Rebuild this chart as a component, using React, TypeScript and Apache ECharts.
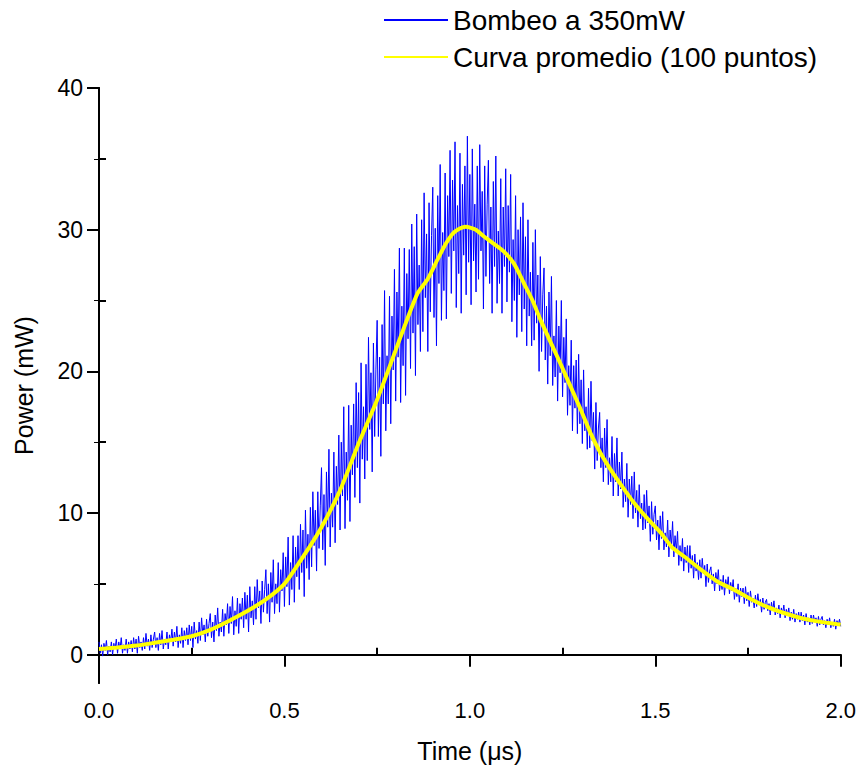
import React, { useEffect, useRef } from "react";
import * as echarts from "echarts";

// Blue trace: Bombeo a 350mW, one value every T_STEP microseconds
const T_STEP = 2 / 600;
const bombeo: number[] = [
  0.9, 0.1, 0.7, -0.1, 0.8, 0.3, 1.0, 0.0, 0.6, 0.2, 0.9, 0.0, 0.8, 0.4, 1.1,
  0.1, 0.9, 0.4, 1.2, 0.1, 0.7, 0.3, 1.1, 0.1, 0.9, 0.4, 1.0, 0.2, 1.2, 0.4,
  1.1, 0.1, 1.3, 0.5, 0.9, 0.3, 1.2, 0.4, 1.5, 0.6, 1.1, 0.3, 1.4, 0.5, 1.1,
  1.6, 0.5, 1.2, 0.3, 1.5, 0.7, 1.7, 0.4, 1.1, 0.7, 1.6, 0.4, 1.4, 0.9, 1.8,
  0.6, 1.6, 0.9, 2.0, 0.5, 1.4, 0.8, 1.9, 0.5, 1.7, 1.0, 1.9, 0.7, 2.1, 1.0,
  2.0, 0.5, 2.3, 1.1, 1.7, 0.8, 2.3, 1.0, 2.6, 1.4, 2.1, 0.9, 2.5, 1.3, 2.2,
  2.9, 1.2, 2.3, 0.9, 2.8, 1.7, 3.3, 1.3, 2.3, 1.6, 3.2, 1.3, 2.9, 2.1, 3.6,
  1.5, 3.4, 2.2, 4.1, 1.4, 3.1, 2.0, 4.0, 1.5, 3.6, 2.5, 4.0, 1.9, 4.4, 2.5,
  4.2, 1.6, 4.8, 2.6, 3.8, 2.1, 4.8, 2.5, 5.3, 3.3, 4.5, 2.2, 5.2, 3.0, 4.6,
  6.0, 2.9, 5.0, 2.3, 5.8, 3.7, 6.7, 2.9, 5.0, 3.6, 6.5, 3.0, 6.0, 4.5, 7.2,
  3.4, 6.9, 4.8, 8.3, 3.5, 6.5, 4.6, 8.4, 3.7, 7.6, 5.5, 8.4, 4.6, 9.2, 5.8,
  8.8, 4.1, 10.2, 6.1, 8.5, 5.3, 10.4, 6.2, 11.5, 7.7, 10.2, 5.9, 11.5, 7.5, 10.5,
  13.2, 7.4, 11.3, 6.3, 12.9, 9.0, 14.5, 7.6, 11.4, 9.0, 14.3, 7.9, 13.3, 10.6, 15.5,
  8.8, 15.0, 11.2, 17.5, 8.9, 14.3, 10.9, 17.6, 9.4, 16.2, 12.7, 17.7, 11.1, 19.2, 13.2,
  18.5, 10.7, 20.6, 13.8, 17.5, 12.4, 20.5, 13.7, 22.4, 15.9, 19.9, 12.9, 22.0, 15.4, 20.1,
  23.6, 15.4, 21.0, 14.0, 23.3, 17.7, 25.7, 15.8, 21.1, 17.7, 25.3, 16.3, 23.9, 20.1, 27.2,
  17.9, 25.6, 21.0, 28.7, 17.8, 24.6, 20.4, 28.7, 18.3, 26.9, 22.3, 28.6, 20.2, 30.4, 22.7,
  28.8, 19.7, 31.1, 23.3, 27.5, 21.4, 30.7, 22.8, 32.6, 25.2, 29.7, 21.4, 31.9, 24.2, 29.6,
  33.0, 23.8, 30.1, 21.8, 32.4, 26.2, 34.6, 23.6, 29.8, 25.7, 34.0, 23.7, 32.4, 28.1, 35.6,
  25.5, 33.5, 28.5, 36.2, 24.5, 31.7, 26.9, 35.4, 24.1, 33.2, 28.2, 34.5, 25.4, 36.6, 27.7,
  33.9, 24.7, 35.7, 27.8, 31.8, 25.6, 34.5, 26.5, 36.0, 28.5, 32.7, 24.4, 34.5, 26.7, 31.8,
  34.9, 26.2, 31.6, 24.1, 33.4, 27.4, 35.2, 24.8, 29.9, 26.2, 33.6, 24.1, 31.6, 27.4, 34.3,
  24.9, 31.7, 27.0, 33.9, 23.5, 29.3, 25.0, 32.4, 22.4, 30.0, 25.4, 30.9, 22.8, 31.9, 24.4,
  29.5, 21.8, 30.7, 23.9, 27.0, 21.8, 29.1, 22.2, 30.0, 23.4, 26.8, 20.0, 28.1, 21.4, 25.4,
  27.3, 20.8, 24.6, 19.1, 25.6, 21.1, 26.7, 19.0, 22.5, 19.6, 25.0, 17.9, 23.2, 19.9, 25.0,
  18.2, 22.4, 19.2, 23.7, 16.9, 20.4, 17.6, 22.2, 15.8, 20.4, 17.4, 20.8, 15.6, 21.2, 16.3,
  19.4, 14.9, 20.1, 15.8, 17.5, 14.5, 18.8, 14.6, 19.3, 15.1, 17.1, 13.1, 17.8, 13.7, 16.0,
  17.1, 13.2, 15.3, 12.2, 16.0, 13.2, 16.6, 12.0, 13.9, 12.2, 15.4, 11.2, 14.2, 12.2, 15.3,
  11.2, 13.6, 11.7, 14.3, 10.4, 12.4, 10.8, 13.5, 9.7, 12.4, 10.6, 12.6, 9.6, 12.9, 10.0,
  11.6, 9.0, 12.0, 9.6, 10.7, 8.8, 11.3, 8.9, 11.6, 9.3, 10.5, 8.0, 10.8, 8.5, 9.9,
  10.5, 8.1, 9.5, 7.4, 9.8, 8.2, 10.1, 7.4, 8.6, 7.6, 9.5, 6.9, 8.8, 7.6, 9.4,
  6.9, 8.4, 7.3, 8.7, 6.3, 7.7, 6.6, 8.2, 5.9, 7.6, 6.5, 7.7, 5.8, 7.7, 6.1,
  7.0, 5.4, 7.1, 5.9, 6.5, 5.3, 6.7, 5.4, 6.8, 5.7, 6.3, 4.8, 6.4, 5.1, 5.9,
  6.2, 5.0, 5.7, 4.5, 5.8, 5.0, 6.0, 4.5, 5.3, 4.6, 5.6, 4.2, 5.3, 4.7, 5.5,
  4.3, 5.1, 4.5, 5.3, 3.9, 4.7, 4.1, 5.0, 3.7, 4.7, 4.1, 4.7, 3.6, 4.8, 3.8,
  4.4, 3.4, 4.5, 3.7, 4.0, 3.3, 4.2, 3.4, 4.3, 3.5, 3.9, 3.0, 4.0, 3.2, 3.7,
  3.9, 3.1, 3.6, 2.8, 3.7, 3.1, 3.8, 2.8, 3.3, 2.9, 3.5, 2.6, 3.3, 2.9, 3.5,
  2.6, 3.2, 2.8, 3.3, 2.4, 3.0, 2.5, 3.2, 2.3, 2.9, 2.5, 3.0, 2.3, 3.0, 2.4,
  2.8, 2.1, 2.9, 2.3, 2.6, 2.1, 2.8, 2.2, 2.8, 2.3, 2.6, 2.0, 2.7, 2.1, 2.5,
  2.7, 2.1, 2.4, 1.9, 2.5, 2.1, 2.6, 1.9, 2.3, 2.0, 2.5, 1.8, 2.4, 2.1, 2.5,
  2.0,
];

// Yellow trace: Curva promedio (100 puntos)
const promedioT: number[] = [
  0.0, 0.05, 0.1, 0.15, 0.2, 0.25, 0.3, 0.35, 0.4, 0.45, 0.5, 0.55, 0.6, 0.65, 0.7, 0.75, 0.8,
  0.827, 0.859, 0.886, 0.913, 0.935, 0.953, 0.967, 0.989, 1.016, 1.039, 1.065, 1.092, 1.119,
  1.146, 1.169, 1.191, 1.245, 1.272, 1.299, 1.326, 1.353, 1.38, 1.41, 1.443, 1.479, 1.515,
  1.546, 1.578, 1.623, 1.667, 1.712, 1.757, 1.802, 1.847, 1.892, 1.937, 2.0,
];
const promedioV: number[] = [
  0.4, 0.5, 0.64, 0.84, 1.05, 1.3, 1.75, 2.38, 3.08, 3.9, 5.0, 6.9, 9.0, 11.6, 14.9, 18.0, 21.5,
  23.4, 25.5, 26.5, 27.9, 29.0, 29.7, 30.0, 30.2, 30.0, 29.5, 29.0, 28.45, 27.6,
  26.2, 25.0, 23.6, 20.5, 18.9, 17.3, 15.6, 14.2, 13.05, 11.9, 10.7, 9.6, 8.6,
  7.55, 6.93, 6.0, 5.17, 4.59, 3.93, 3.37, 2.94, 2.59, 2.35, 2.12,
];

const xMajor = [0, 0.5, 1.0, 1.5, 2.0];
const xMinor = [0.25, 0.75, 1.25, 1.75];
const yMajor = [0, 10, 20, 30, 40];
const yMinor = [5, 15, 25, 35];
const yRight = [0, 5, 10, 15, 20, 25, 30, 35, 40];

const seriesNames = ["Bombeo a 350mW", "Curva promedio (100 puntos)"];

const FONT = "'Liberation Sans', Arial, Helvetica, sans-serif";

export default function App() {
  const ref = useRef<HTMLDivElement>(null);

  useEffect(() => {
    if (!ref.current) return;
    const chart = echarts.init(ref.current, undefined, { renderer: "svg" });
    const black = "#000";
    const line = { show: true, lineStyle: { color: black, width: 2 } };

    chart.setOption({
      animation: false,
      backgroundColor: "#fff",
      textStyle: { fontFamily: FONT },
      legend: {
        orient: "vertical",
        left: 378,
        top: 0,
        itemWidth: 64,
        itemHeight: 14,
        itemGap: 7,
        itemStyle: { opacity: 0, color: "transparent", borderWidth: 0 },
        textStyle: { fontSize: 28, color: black, fontFamily: FONT, lineHeight: 30 },
        data: seriesNames,
      },
      grid: { left: 99, right: 18, top: 88, bottom: 88, containLabel: false },
      xAxis: [
        {
          type: "value",
          min: 0,
          max: 2,
          interval: 0.5,
          position: "bottom",
          axisLine: line,
          axisTick: { show: true, inside: false, length: 12, lineStyle: { color: black, width: 2 } },
          axisLabel: {
            show: true,
            customValues: xMajor,
            margin: 16,
            fontSize: 22,
            color: black,
            fontFamily: FONT,
            formatter: (v: number) => v.toFixed(1),
          },
          splitLine: { show: false },
          name: "Time (\u03bcs)",
          nameLocation: "middle",
          nameGap: 55,
          nameTextStyle: { fontSize: 25, color: black, fontFamily: FONT },
        },
        {
          type: "value",
          min: 0,
          max: 2,
          position: "bottom",
          axisLine: { show: false },
          axisTick: {
            show: true,
            inside: true,
            length: 7,
            customValues: xMinor,
            lineStyle: { color: black, width: 2 },
          },
          axisLabel: { show: false },
          splitLine: { show: false },
        },
        {
          type: "value",
          min: 0,
          max: 2,
          position: "top",
          axisLine: line,
          axisTick: { show: false },
          axisLabel: { show: false },
          splitLine: { show: false },
        },
      ],
      yAxis: [
        {
          type: "value",
          min: -2,
          max: 40,
          position: "left",
          axisLine: line,
          axisTick: {
            show: true,
            inside: false,
            length: 12,
            customValues: yMajor,
            lineStyle: { color: black, width: 2 },
          },
          axisLabel: {
            show: true,
            customValues: yMajor,
            margin: 16,
            fontSize: 23,
            color: black,
            fontFamily: FONT,
          },
          splitLine: { show: false },
          name: "Power (mW)",
          nameLocation: "middle",
          nameGap: 63,
          nameTextStyle: { fontSize: 25, color: black, fontFamily: FONT },
        },
        {
          type: "value",
          min: -2,
          max: 40,
          position: "left",
          axisLine: { show: false },
          axisTick: {
            show: true,
            inside: true,
            length: 7,
            customValues: yMinor,
            lineStyle: { color: black, width: 2 },
          },
          axisLabel: { show: false },
          splitLine: { show: false },
        },
        {
          type: "value",
          min: -2,
          max: 40,
          position: "right",
          axisLine: line,
          axisTick: {
            show: true,
            inside: true,
            length: 5,
            customValues: yRight,
            lineStyle: { color: black, width: 1 },
          },
          axisLabel: { show: false },
          splitLine: { show: false },
        },
      ],
      series: [
        {
          name: seriesNames[0],
          type: "line",
          xAxisIndex: 0,
          yAxisIndex: 0,
          symbol: "none",
          showSymbol: false,
          lineStyle: { color: "#0000ff", width: 1 },
          itemStyle: { color: "#0000ff" },
          data: bombeo.map((v, i) => [i * T_STEP, v]),
          z: 2,
        },
        {
          name: seriesNames[1],
          type: "line",
          xAxisIndex: 0,
          yAxisIndex: 0,
          symbol: "none",
          showSymbol: false,
          smooth: 0.2,
          lineStyle: { color: "#ffff00", width: 4 },
          itemStyle: { color: "#ffff00" },
          data: promedioT.map((t, i) => [t, promedioV[i]]),
          z: 3,
        },
      ],
    });

    return () => chart.dispose();
  }, []);

  return (
    <div
      ref={ref}
      style={{ position: "absolute", left: 0, top: 0, width: 859, height: 771 }}
    />
  );
}
